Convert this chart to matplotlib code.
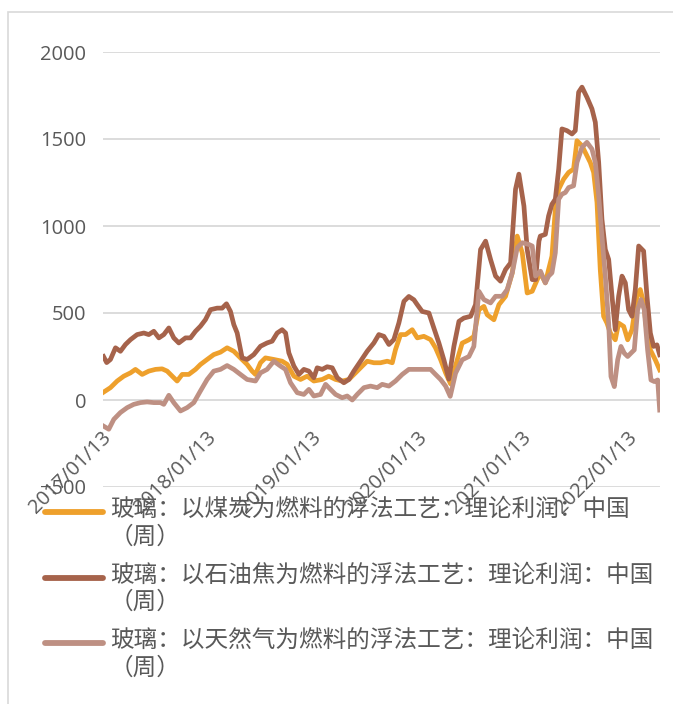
import numpy as np
import matplotlib
matplotlib.use('Agg')
import matplotlib.pyplot as plt
from matplotlib.lines import Line2D
from matplotlib.patches import Rectangle

plt.rcParams['font.family'] = ['Open Sans', 'Noto Sans CJK SC', 'DejaVu Sans']

# 时间用小数年表示（2017/01/13 起，周度数据按读图取点）
coal_t = [2017.040, 2017.106, 2017.170, 2017.233, 2017.297, 2017.344, 2017.408, 2017.471,
          2017.535, 2017.598, 2017.646, 2017.694, 2017.741, 2017.789, 2017.852, 2017.916,
          2017.963, 2018.027, 2018.090, 2018.154, 2018.217, 2018.281, 2018.344, 2018.408,
          2018.455, 2018.487, 2018.535, 2018.582, 2018.662, 2018.741, 2018.789, 2018.853,
          2018.916, 2018.980, 2019.043, 2019.123, 2019.186, 2019.250, 2019.313, 2019.377,
          2019.440, 2019.504, 2019.551, 2019.615, 2019.678, 2019.742, 2019.790, 2019.821,
          2019.869, 2019.917, 2019.980, 2020.028, 2020.091, 2020.155, 2020.202, 2020.250,
          2020.298, 2020.345, 2020.409, 2020.456, 2020.520, 2020.567, 2020.615, 2020.663,
          2020.694, 2020.758, 2020.806, 2020.869, 2020.933, 2020.980, 2021.028, 2021.075,
          2021.123, 2021.171, 2021.200, 2021.248, 2021.279, 2021.311, 2021.343, 2021.375,
          2021.422, 2021.470, 2021.517, 2021.549, 2021.597, 2021.644, 2021.676, 2021.708,
          2021.740, 2021.771, 2021.803, 2021.835, 2021.867, 2021.914, 2021.946, 2021.994,
          2022.032, 2022.073, 2022.121, 2022.152, 2022.184, 2022.216, 2022.248, 2022.295,
          2022.337]
coal_v = [45, 71, 109, 137, 156, 176, 147, 166,
          176, 179, 166, 137, 109, 147, 147, 176,
          204, 233, 261, 275, 300, 280, 242, 204,
          166, 147, 214, 242, 233, 223, 205, 137,
          118, 137, 109, 118, 137, 118, 109, 118,
          156, 195, 223, 214, 214, 223, 214, 290,
          376, 376, 404, 357, 366, 347, 300, 233,
          156, 93, 231, 327, 346, 365, 519, 538,
          490, 461, 548, 596, 731, 942, 846, 615,
          625, 692, 731, 673, 750, 827, 1096, 1211,
          1269, 1308, 1327, 1490, 1461, 1404, 1365, 1308,
          1135, 750, 481, 442, 385, 346, 442, 423,
          346, 404, 596, 635, 558, 385, 288, 231,
          173]

coke_t = [2017.040, 2017.070, 2017.106, 2017.154, 2017.201, 2017.249, 2017.297, 2017.360,
          2017.424, 2017.471, 2017.519, 2017.567, 2017.614, 2017.662, 2017.709, 2017.757,
          2017.821, 2017.868, 2017.916, 2017.963, 2018.011, 2018.059, 2018.122, 2018.170,
          2018.211, 2018.249, 2018.281, 2018.313, 2018.360, 2018.408, 2018.471, 2018.535,
          2018.598, 2018.646, 2018.694, 2018.741, 2018.774, 2018.805, 2018.853, 2018.901,
          2018.948, 2018.996, 2019.043, 2019.075, 2019.123, 2019.170, 2019.218, 2019.266,
          2019.329, 2019.377, 2019.424, 2019.488, 2019.551, 2019.615, 2019.662, 2019.710,
          2019.758, 2019.805, 2019.853, 2019.901, 2019.948, 2019.996, 2020.028, 2020.075,
          2020.139, 2020.186, 2020.234, 2020.282, 2020.329, 2020.377, 2020.425, 2020.472,
          2020.536, 2020.583, 2020.631, 2020.679, 2020.726, 2020.774, 2020.821, 2020.869,
          2020.917, 2020.964, 2020.996, 2021.044, 2021.075, 2021.123, 2021.155, 2021.187,
          2021.200, 2021.248, 2021.279, 2021.311, 2021.343, 2021.375, 2021.406, 2021.454,
          2021.502, 2021.533, 2021.565, 2021.597, 2021.644, 2021.692, 2021.724, 2021.756,
          2021.787, 2021.819, 2021.851, 2021.883, 2021.914, 2021.946, 2021.978, 2022.010,
          2022.041, 2022.073, 2022.105, 2022.137, 2022.184, 2022.216, 2022.248, 2022.279,
          2022.311, 2022.337]
coke_v = [250, 215, 233, 300, 280, 319, 347, 376,
          385, 376, 395, 357, 376, 414, 357, 328,
          357, 357, 395, 424, 462, 519, 528, 528,
          553, 509, 433, 385, 242, 233, 261, 309,
          328, 338, 385, 404, 385, 271, 195, 147,
          176, 166, 128, 185, 176, 191, 185, 128,
          99, 118, 166, 223, 280, 328, 376, 366,
          319, 347, 443, 567, 595, 576, 548, 509,
          500, 414, 328, 230, 120, 308, 452, 471,
          481, 548, 865, 913, 808, 712, 683, 750,
          788, 1211, 1298, 1115, 865, 692, 692, 913,
          942, 952, 1058, 1125, 1154, 1327, 1558, 1548,
          1529, 1548, 1769, 1798, 1740, 1673, 1596, 1365,
          1038, 865, 808, 596, 404, 596, 712, 673,
          519, 481, 635, 885, 856, 596, 385, 308,
          317, 260]

gas_t = [2017.040, 2017.090, 2017.138, 2017.201, 2017.265, 2017.328, 2017.392, 2017.455,
         2017.519, 2017.582, 2017.614, 2017.662, 2017.709, 2017.773, 2017.836, 2017.900,
         2017.963, 2018.027, 2018.090, 2018.154, 2018.217, 2018.281, 2018.344, 2018.408,
         2018.487, 2018.535, 2018.598, 2018.662, 2018.725, 2018.773, 2018.821, 2018.885,
         2018.948, 2018.996, 2019.043, 2019.107, 2019.155, 2019.202, 2019.250, 2019.313,
         2019.361, 2019.409, 2019.456, 2019.520, 2019.583, 2019.647, 2019.694, 2019.758,
         2019.821, 2019.885, 2019.948, 2020.028, 2020.091, 2020.155, 2020.202, 2020.250,
         2020.298, 2020.342, 2020.393, 2020.456, 2020.520, 2020.567, 2020.615, 2020.663,
         2020.726, 2020.774, 2020.837, 2020.885, 2020.933, 2020.980, 2021.028, 2021.091,
         2021.123, 2021.155, 2021.202, 2021.248, 2021.279, 2021.311, 2021.343, 2021.375,
         2021.406, 2021.438, 2021.470, 2021.517, 2021.549, 2021.597, 2021.644, 2021.692,
         2021.724, 2021.756, 2021.787, 2021.819, 2021.851, 2021.873, 2021.905, 2021.937,
         2021.968, 2022.000, 2022.032, 2022.063, 2022.095, 2022.127, 2022.159, 2022.190,
         2022.222, 2022.254, 2022.286, 2022.318, 2022.337]
gas_v = [-150, -168, -111, -72, -44, -25, -15, -11,
         -15, -15, -25, 27, -15, -63, -44, -15,
         52, 118, 166, 176, 198, 176, 147, 118,
         109, 156, 176, 223, 195, 176, 99, 42,
         32, 61, 23, 32, 90, 61, 32, 13,
         23, 0, 32, 71, 80, 71, 90, 80,
         109, 147, 176, 176, 176, 176, 147, 118,
         80, 21, 154, 231, 250, 308, 625, 577,
         558, 596, 596, 635, 731, 875, 904, 894,
         885, 712, 740, 673, 712, 731, 846, 1154,
         1183, 1192, 1221, 1231, 1365, 1452, 1481, 1442,
         1365, 1173, 942, 712, 442, 135, 77, 231,
         308, 269, 250, 269, 288, 519, 577, 519,
         288, 115, 106, 115, -58]

labels = ['玻璃：以煤炭为燃料的浮法工艺：理论利润：中国\n（周）',
          '玻璃：以石油焦为燃料的浮法工艺：理论利润：中国\n（周）',
          '玻璃：以天然气为燃料的浮法工艺：理论利润：中国\n（周）']
colors = ['#EEA02C', '#A6634B', '#BE9083']
tick_years = [2017, 2018, 2019, 2020, 2021, 2022]
tick_labels = ['%d/01/13' % y for y in tick_years]

W, H = 673, 704
fig = plt.figure(figsize=(W / 100, H / 100), dpi=100)

# 外框
fig.add_artist(Rectangle((8 / W, -0.02), 1.1, 1.003, transform=fig.transFigure,
                         fill=False, edgecolor='#D9D9D9', lw=1.2))

ax = fig.add_axes([103 / W, 1 - 487 / H, 557 / W, 435 / H])
for t, v, c in zip([coal_t, coke_t, gas_t], [coal_v, coke_v, gas_v], colors):
    ax.plot(t, v, color=c, lw=3.4, solid_joinstyle='round')

ax.set_xlim(2017.035, 2022.34)
ax.set_ylim(-500, 2000)
ax.set_yticks(np.arange(-500, 2001, 500))
ax.yaxis.grid(True, color='#D9D9D9', lw=1.3)
ax.set_axisbelow(True)
ax.set_xticks([])
for s in ax.spines.values():
    s.set_visible(False)
ax.tick_params(axis='y', length=0, pad=12, labelsize=14.5, labelcolor='#595959')

# 日期标签放在 0 轴下方（Excel 的横轴交叉于 0）
for y, lab in zip(tick_years, tick_labels):
    ax.annotate(lab, xy=(y + 12 / 365, 0), xycoords='data', xytext=(6, -35),
                textcoords='offset pixels', rotation=45, rotation_mode='anchor',
                ha='right', va='center', fontsize=14.5, color='#595959')

# 图例
for i, (lab, c) in enumerate(zip(labels, colors)):
    yy = 1 - (512 + 65.5 * i) / H
    fig.add_artist(Line2D([45 / W, 103 / W], [yy, yy], transform=fig.transFigure,
                          color=c, lw=4.2, solid_capstyle='round'))
    fig.text(110 / W, yy + 14 / H, lab, fontsize=17, color='#595959', va='top',
             ha='left', family=['Noto Sans CJK SC', 'DejaVu Sans'], linespacing=1.25)

fig.savefig('out.png', dpi=100)
